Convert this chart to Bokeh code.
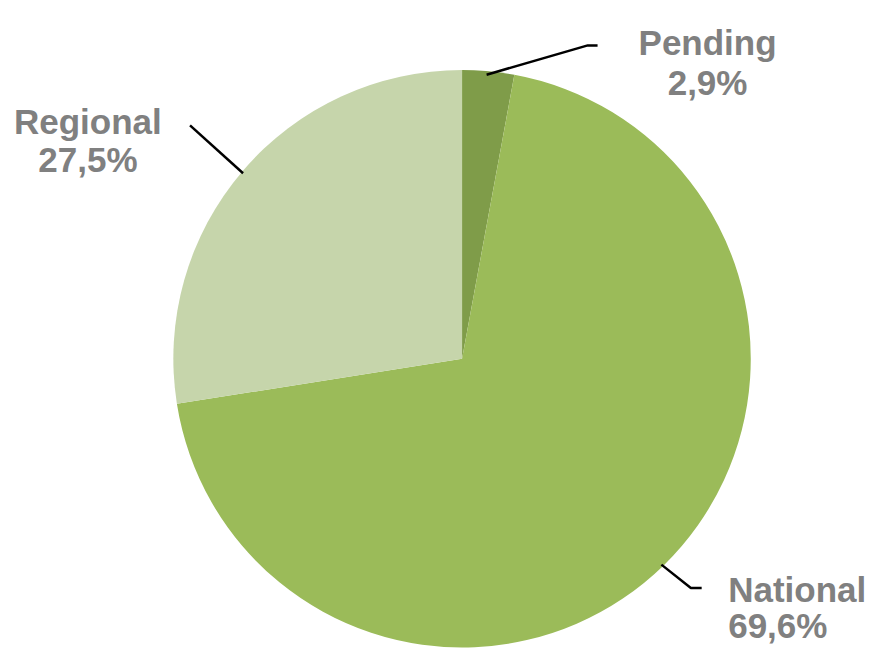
import math
from bokeh.plotting import figure
from bokeh.models import Range1d, ColumnDataSource
from bokeh.core.properties import value
from bokeh.embed import file_html
from bokeh.resources import INLINE

# ---- data ----
categories = ["Pending", "National", "Regional"]
shares = [2.9, 69.6, 27.5]
colors = ["#7f9c49", "#9bbb59", "#c6d5ab"]

# ---- layout (reference pixel coordinates; y measured downward from top) ----
W, H = 874, 651
REF_W, REF_H = 890, 667
cx, cy_page, R = 470, 367, 294

def Y(page_y):
    return REF_H - page_y

p = figure(width=W, height=H, output_backend="svg", toolbar_location=None,
           x_range=Range1d(0, REF_W), y_range=Range1d(0, REF_H),
           min_border=0, outline_line_color=None)
p.axis.visible = False
p.grid.visible = False
p.background_fill_color = "white"
p.border_fill_color = "white"

total = sum(shares)
starts, ends = [], []
cum = 0.0
for s in shares:
    starts.append(math.pi / 2 - 2 * math.pi * cum / total)
    cum += s
    ends.append(math.pi / 2 - 2 * math.pi * cum / total)

src = ColumnDataSource(dict(cat=categories, share=shares, color=colors,
                            start=starts, end=ends))
p.wedge(x=cx, y=Y(cy_page), radius=R, start_angle="start", end_angle="end",
        direction="clock", fill_color="color", line_color=None, source=src)

# leader lines
leaders = {
    "Pending": [(495, 76), (598, 46), (608, 46)],
    "Regional": [(247, 177), (193, 128)],
    "National": [(673, 578), (703, 602), (714, 602)],
}
for name, pts in leaders.items():
    p.line([a for a, b in pts], [Y(b) for a, b in pts], line_color="black", line_width=2.5)

# labels
label_pos = {
    "Pending": (720, 43, 84, "center"),
    "Regional": (89, 124, 163, "center"),
    "National": (741, 603, 640, "left"),
}
for name, val in zip(categories, shares):
    x, b1, b2, align = label_pos[name]
    pct = f"{val:.1f}".replace(".", ",") + "%"
    p.text(x=[x, x], y=[Y(b1), Y(b2)], text=[name, pct],
           text_font=value("Liberation Sans"), text_font_style="bold",
           text_font_size="35px", text_color="#808080",
           text_align=align, text_baseline="alphabetic")

open("out.html", "w").write(file_html(p, INLINE))
